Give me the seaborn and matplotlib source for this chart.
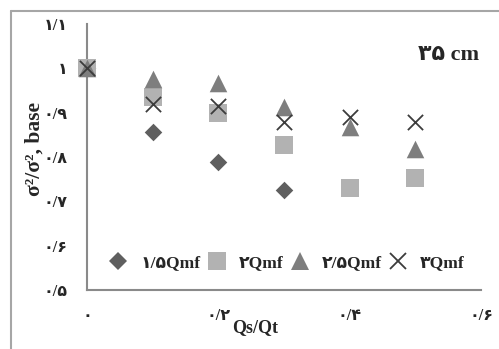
import matplotlib
matplotlib.use("Agg")
import matplotlib.pyplot as plt
from matplotlib.lines import Line2D
import seaborn as sns
import pandas as pd

sns.set_style("white")
plt.rcParams["font.family"] = ["Liberation Serif", "DejaVu Sans"]
plt.rcParams["font.weight"] = "bold"

# Qs/Qt ratios
qs_qt = [0.0, 0.1, 0.2, 0.3, 0.4, 0.5]

# normalized variance for each flow rate
s_15 = [1.0, 0.857, 0.788, 0.726, None, None]
s_20 = [1.0, 0.935, 0.900, 0.826, 0.729, 0.752]
s_25 = [1.0, 0.975, 0.966, 0.912, 0.867, 0.817]
s_30 = [1.0, 0.919, 0.916, 0.878, 0.890, 0.878]

series_names = ["۱/۵Qmf", "۲Qmf", "۲/۵Qmf", "۳Qmf"]
series_vals = [s_15, s_20, s_25, s_30]

x_ticks = [0.0, 0.2, 0.4, 0.6]
x_tick_labels = ["۰", "۰/۲", "۰/۴", "۰/۶"]
y_ticks = [0.5, 0.6, 0.7, 0.8, 0.9, 1.0, 1.1]
y_tick_labels = ["۰/۵", "۰/۶", "۰/۷", "۰/۸", "۰/۹", "۱", "۱/۱"]

rows = []
for name, vals in zip(series_names, series_vals):
    for x, v in zip(qs_qt, vals):
        if v is not None:
            rows.append({"Qs/Qt": x, "ratio": v, "series": name})
df = pd.DataFrame(rows)

styles = {
    "۱/۵Qmf": dict(marker="D", color="#5f5f5f", s=80),
    "۲Qmf": dict(marker="s", color="#b2b2b2", s=160),
    "۲/۵Qmf": dict(marker="^", color="#7e7e7e", s=160),
    "۳Qmf": dict(marker="x", color="#3c3c3c", s=120),
}

fig = plt.figure(figsize=(4.99, 3.49), dpi=100)
ax = fig.add_axes([87 / 499, 1 - 290 / 349, (481 - 87) / 499, (290 - 24) / 349])

for name in series_names:
    st = styles[name]
    sub = df[df["series"] == name]
    kw = dict(linewidth=0) if st["marker"] != "x" else dict(linewidth=1.3)
    sns.scatterplot(data=sub, x="Qs/Qt", y="ratio", ax=ax, marker=st["marker"],
                    color=st["color"], s=st["s"], label=name, zorder=3,
                    clip_on=False, **kw)

ax.set_xlim(0, 0.6)
ax.set_ylim(0.5, 1.1)
ax.set_xticks(x_ticks)
ax.set_xticklabels(x_tick_labels)
ax.set_yticks(y_ticks)
ax.set_yticklabels(y_tick_labels)

for side in ["top", "right"]:
    ax.spines[side].set_visible(False)
for side in ["left", "bottom"]:
    ax.spines[side].set_color("#8a8a8a")
    ax.spines[side].set_linewidth(1.5)

ax.tick_params(axis="both", which="major", direction="out", length=4, width=1.5,
               color="#8a8a8a", labelsize=11.5)
ax.tick_params(axis="y", pad=10)
ax.tick_params(axis="x", pad=9)
for lbl in ax.get_xticklabels() + ax.get_yticklabels():
    lbl.set_fontweight("bold")

ax.set_xlabel("Qs/Qt", fontsize=13, fontweight="bold", labelpad=2)
ax.xaxis.set_label_coords((255 - 87) / 394, -0.11)
ax.set_ylabel("σ²/σ², base", fontsize=15.5, fontweight="bold")
ax.yaxis.set_label_coords(-0.108, 0.53)

ax.text(0.995, 0.885, "۳۵ cm", transform=ax.transAxes, ha="right", va="center",
        fontsize=16, fontweight="bold")

handles = [Line2D([], [], linestyle="none", marker=styles[n]["marker"],
                  color=styles[n]["color"], markeredgewidth=1.3 if styles[n]["marker"] == "x" else 0,
                  markersize=(styles[n]["s"]) ** 0.5) for n in series_names]
ax.legend(handles, series_names, ncol=4, loc="center", bbox_to_anchor=(0.508, 0.10),
          frameon=False, handletextpad=0.75, columnspacing=0.45,
          handlelength=1.0, prop={"weight": "bold", "size": 12.5})

# outer chart frame
fig.add_artist(Line2D([10.5 / 499, 10.5 / 499], [0, 1 - 10.5 / 349],
                      transform=fig.transFigure, color="#a6a6a6", lw=1.5))
fig.add_artist(Line2D([10.5 / 499, 1], [1 - 10.5 / 349, 1 - 10.5 / 349],
                      transform=fig.transFigure, color="#a6a6a6", lw=1.5))

fig.savefig("out.png", dpi=100)
